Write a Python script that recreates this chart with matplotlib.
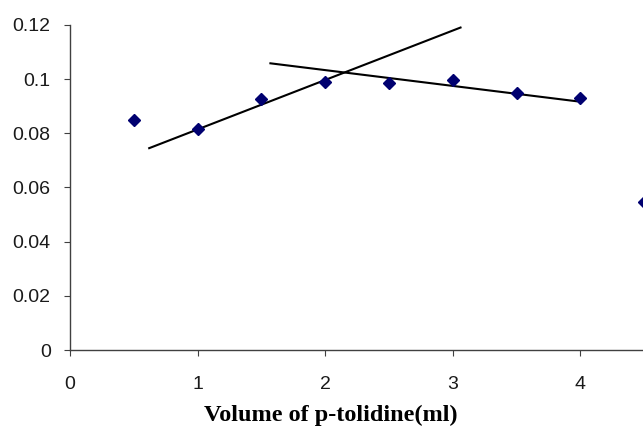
import matplotlib
matplotlib.use('Agg')
from matplotlib import pyplot as plt

# measured points
volume = [0.5, 1.0, 1.5, 2.0, 2.5, 3.0, 3.5, 4.0, 4.5]
absorbance = [0.085, 0.0815, 0.0925, 0.099, 0.0985, 0.0998, 0.095, 0.093, 0.0545]

# the two trend lines (end points)
rise_x = [0.62, 3.06]
rise_y = [0.0745, 0.1190]
fall_x = [1.57, 3.97]
fall_y = [0.1058, 0.0918]

yticks = [0, 0.02, 0.04, 0.06, 0.08, 0.1, 0.12]
ytick_labels = ['0', '0.02', '0.04', '0.06', '0.08', '0.1', '0.12']
xticks = [0, 1, 2, 3, 4]

fig = plt.figure(figsize=(6.43, 4.28), dpi=100)
ax = fig.add_axes([0.109, 0.182, 0.891, 0.760])

ax.plot(rise_x, rise_y, color='black', lw=1.5)
ax.plot(fall_x, fall_y, color='black', lw=1.5)
ax.plot(volume, absorbance, linestyle='none', marker='D', markersize=6.5,
        color='#000070', clip_on=False, zorder=3)

ax.set_xlim(0, 4.49)
ax.set_ylim(0, 0.12)
ax.set_xticks(xticks)
ax.set_xticklabels([str(t) for t in xticks])
ax.set_yticks(yticks)
ax.set_yticklabels(ytick_labels)

for s in ['top', 'right']:
    ax.spines[s].set_visible(False)
for s in ['left', 'bottom']:
    ax.spines[s].set_color('#404040')
    ax.spines[s].set_linewidth(1.0)

ax.tick_params(axis='both', direction='out', length=4, color='#404040',
               labelsize=14)
ax.tick_params(axis='y', pad=10)
ax.tick_params(axis='x', pad=15)
for lab in ax.get_xticklabels() + ax.get_yticklabels():
    lab.set_family('Liberation Sans')
    lab.set_color('#1a1a1a')

fig.text(0.514, 0.0164, 'Volume of p-tolidine(ml)', family='Liberation Serif',
         fontweight='bold', fontsize=17.5, ha='center', va='baseline')

fig.savefig('out.png', dpi=100)
